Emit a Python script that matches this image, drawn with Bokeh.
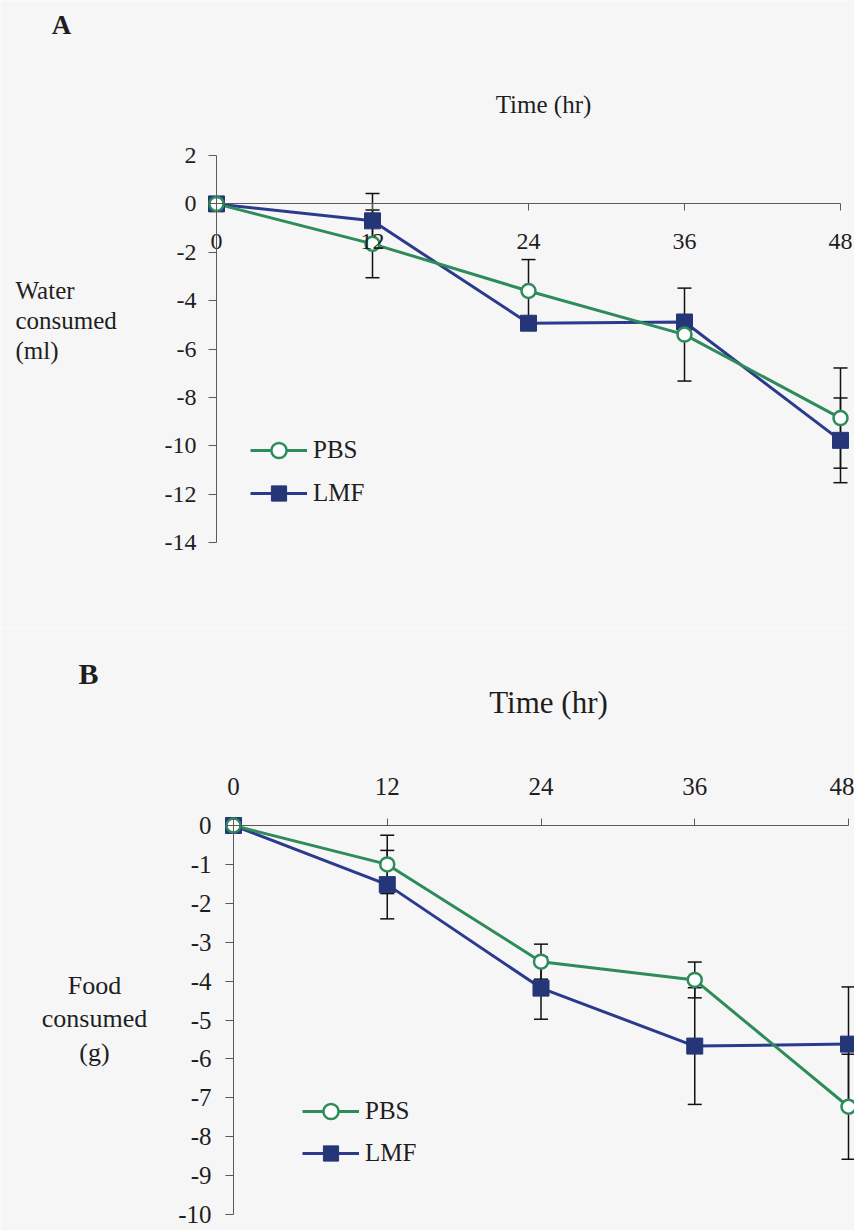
from bokeh.plotting import figure
from bokeh.layouts import column
from bokeh.models import (LinearAxis, FixedTicker, Range1d, Label, Legend, LegendItem,
                          Whisker, ColumnDataSource, TeeHead)
from bokeh.embed import file_html
from bokeh.resources import INLINE

# ---------------- data ----------------
time_hr = [0, 12, 24, 36, 48]
time_tick_labels = ["0", "12", "24", "36", "48"]

water_pbs = [0, -1.65, -3.6, -5.4, -8.85]
water_pbs_err = [0, 1.4, 1.3, 1.92, 2.07]
water_lmf = [0, -0.7, -4.93, -4.88, -9.77]
water_lmf_err = [0, 1.13, 0.1, 0.1, 1.75]
water_ticks = [2, 0, -2, -4, -6, -8, -10, -12, -14]
water_tick_labels = ["2", "0", "-2", "-4", "-6", "-8", "-10", "-12", "-14"]

food_pbs = [0, -1.0, -3.5, -3.97, -7.23]
food_pbs_err = [0, 0.75, 0.45, 0.46, 1.35]
food_lmf = [0, -1.52, -4.18, -5.67, -5.62]
food_lmf_err = [0, 0.88, 0.8, 1.5, 1.47]
food_ticks = [0, -1, -2, -3, -4, -5, -6, -7, -8, -9, -10]
food_tick_labels = ["0", "-1", "-2", "-3", "-4", "-5", "-6", "-7", "-8", "-9", "-10"]

series_names = ["PBS", "LMF"]

# ---------------- style ----------------
GREEN = "#2e8b5a"
NAVY = "#2b3a8c"
NAVY_FILL = "#243677"
BG = "#f7f6f7"
AXIS = "#5a5a5a"
TXT = "#1e1e1e"
FONT = "Liberation Serif"
W = 854


def panel(H, top_page, x0, kx, y0, ky):
    fl, fr = 0, W
    ft, fb = top_page, top_page + H
    xr = Range1d((fl - x0) / kx, (fr - x0) / kx)
    yr = Range1d((y0 - fb) / ky, (y0 - ft) / ky)
    p = figure(width=W, height=H, x_range=xr, y_range=yr,
               x_axis_location=None, y_axis_location=None,
               toolbar_location=None, output_backend="svg",
               min_border_left=0, min_border_right=0,
               min_border_top=0, min_border_bottom=0)
    p.outline_line_color = None
    p.background_fill_color = BG
    p.border_fill_color = BG
    p.grid.visible = False
    dx = lambda px: (px - x0) / kx
    dy = lambda py: (y0 - py) / ky
    return p, dx, dy, fl, fb


def style_axis(ax, size, tick_out, standoff):
    ax.axis_line_color = AXIS
    ax.axis_line_width = 1
    ax.major_tick_line_color = AXIS
    ax.major_tick_out = tick_out
    ax.major_tick_in = 0
    ax.minor_tick_out = 0
    ax.minor_tick_in = 0
    ax.major_label_text_font = FONT
    ax.major_label_text_font_size = size
    ax.major_label_text_color = TXT
    ax.major_label_standoff = standoff


def add_series(p, pbs, pbs_err, lmf, lmf_err, legend_loc, spacing, fs):
    src_p = ColumnDataSource(dict(x=time_hr, y=pbs,
                                  lo=[v - e for v, e in zip(pbs, pbs_err)],
                                  hi=[v + e for v, e in zip(pbs, pbs_err)]))
    src_l = ColumnDataSource(dict(x=time_hr, y=lmf,
                                  lo=[v - e for v, e in zip(lmf, lmf_err)],
                                  hi=[v + e for v, e in zip(lmf, lmf_err)]))
    for s in (src_p, src_l):
        w = Whisker(source=s, base="x", upper="hi", lower="lo", level="underlay",
                    line_color="#111111", line_width=1.5,
                    upper_head=TeeHead(size=14, line_color="#111111", line_width=1.5),
                    lower_head=TeeHead(size=14, line_color="#111111", line_width=1.5))
        p.add_layout(w)
    l_line = p.line("x", "y", source=src_l, line_color=NAVY, line_width=3)
    p_line = p.line("x", "y", source=src_p, line_color=GREEN, line_width=3)
    l_sc = p.scatter("x", "y", source=src_l, marker="square", size=16,
                     fill_color=NAVY_FILL, line_color=NAVY_FILL, line_width=1)
    p_sc = p.scatter("x", "y", source=src_p, marker="circle", size=14,
                     fill_color="white", line_color=GREEN, line_width=2.5)
    leg = Legend(items=[LegendItem(label=series_names[0], renderers=[p_line, p_sc]),
                        LegendItem(label=series_names[1], renderers=[l_line, l_sc])],
                 location=legend_loc)
    leg.border_line_color = None
    leg.background_fill_alpha = 0
    leg.padding = 0
    leg.margin = 0
    leg.spacing = spacing
    leg.glyph_width = 57
    leg.glyph_height = 38
    leg.label_height = 38
    leg.label_standoff = 6
    leg.label_text_font = FONT
    leg.label_text_font_size = fs
    leg.label_text_color = TXT
    p.add_layout(leg)


def label(p, x, y, text, size, align="center", bold=False):
    p.add_layout(Label(x=x, y=y, text=text, text_font=FONT, text_font_size=size,
                       text_color=TXT, text_align=align, text_baseline="middle",
                       text_font_style="bold" if bold else "normal"))


# ---------------- panel A ----------------
HA = 628
pa, dxa, dya, fla, fba = panel(HA, 0, 216, 13.0, 203.4, 24.2)
xa = LinearAxis(fixed_location=0, bounds=(time_hr[0], time_hr[-1]),
                ticker=FixedTicker(ticks=time_hr),
                major_label_overrides={t: s for t, s in zip(time_hr, time_tick_labels)})
style_axis(xa, "24px", 7, 23)
pa.add_layout(xa, "below")
ya = LinearAxis(fixed_location=0, bounds=(water_ticks[-1], water_ticks[0]),
                ticker=FixedTicker(ticks=water_ticks),
                major_label_overrides={t: s for t, s in zip(water_ticks, water_tick_labels)})
style_axis(ya, "24px", 8, 12)
pa.add_layout(ya, "left")
add_series(pa, water_pbs, water_pbs_err, water_lmf, water_lmf_err,
           (250 - fla, fba - 512), 5, "25px")
label(pa, dxa(61), dya(24), "A", "27px", bold=True)
label(pa, dxa(543), dya(104), "Time (hr)", "25px")
for txt, py in zip(["Water", "consumed", "(ml)"], [290, 320, 350]):
    label(pa, dxa(15), dya(py), txt, "25px", align="left")

# ---------------- panel B ----------------
HB = 602
pb, dxb, dyb, flb, fbb = panel(HB, HA, 233, 12.8125, 825, 38.9)
xb = LinearAxis(fixed_location=0, bounds=(time_hr[0], time_hr[-1]),
                ticker=FixedTicker(ticks=time_hr),
                major_label_overrides={t: s for t, s in zip(time_hr, time_tick_labels)})
style_axis(xb, "25px", 7, 24)
pb.add_layout(xb, "above")
yb = LinearAxis(fixed_location=0, bounds=(food_ticks[-1], food_ticks[0]),
                ticker=FixedTicker(ticks=food_ticks),
                major_label_overrides={t: s for t, s in zip(food_ticks, food_tick_labels)})
style_axis(yb, "25px", 8, 14)
pb.add_layout(yb, "left")
add_series(pb, food_pbs, food_pbs_err, food_lmf, food_lmf_err,
           (302 - flb, fbb - 1172), 4, "25px")
label(pb, dxb(88), dyb(673), "B", "30px", bold=True)
label(pb, dxb(548), dyb(702), "Time (hr)", "31px")
for txt, py in zip(["Food", "consumed", "(g)"], [985, 1018, 1052]):
    label(pb, dxb(94), dyb(py), txt, "26px")

layout = column(pa, pb, spacing=0)
open("out.html", "w").write(file_html(layout, INLINE))
